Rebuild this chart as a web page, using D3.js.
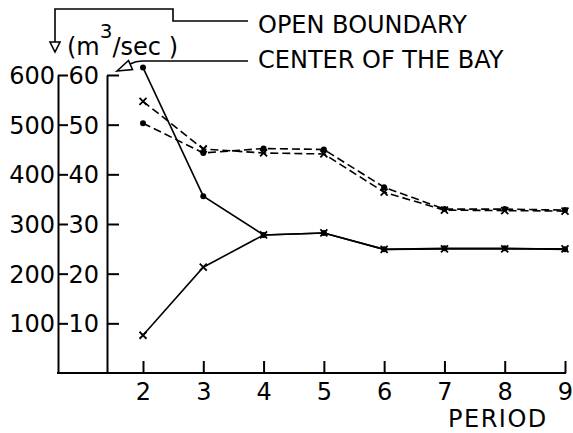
<!DOCTYPE html>
<html lang="en">
<head>
<meta charset="UTF-8">
<title>Flow by period</title>
<script src="https://d3js.org/d3.v7.min.js"></script>
<style>
  body { margin: 0; background: #fff; }
  svg { display: block; font-family: "DejaVu Sans", sans-serif; }
  .axis text { font-size: 24px; fill: #000; font-family: "DejaVu Sans", sans-serif; }
  .axis path, .axis line { stroke: #000; stroke-width: 2; }
  .lbl { font-size: 24px; fill: #000; }
  .conn { fill: none; stroke: #000; stroke-width: 1.6; }
  .tri { fill: #fff; stroke: #000; stroke-width: 1.6; }
</style>
</head>
<body>
<svg width="573" height="433"></svg>
<script>
const periods = [2, 3, 4, 5, 6, 7, 8, 9];
// solid lines, left scale (0-600)
const solidDot   = [615, 356, 278, 282, 249, 251, 251, 249];
const solidCross = [76, 213, 278, 282, 249, 250, 250, 250];
// dashed lines, inner scale (0-60)
const dashDot   = [50.3, 44.3, 45.2, 45.0, 37.4, 33.0, 33.0, 32.8];
const dashCross = [54.7, 45.1, 44.3, 44.1, 36.4, 32.8, 32.7, 32.6];
const outerTicks = [100, 200, 300, 400, 500, 600];
const innerTicks = [10, 20, 30, 40, 50, 60];
const legendLabels = ["OPEN BOUNDARY", "CENTER OF THE BAY"];

const outerX = 58, innerX = 107, plotTop = 75, plotBottom = 373;

const svg = d3.select("svg");

const yOuter = d3.scaleLinear().domain([0, 600]).range([plotBottom, plotTop]);
const yInner = d3.scaleLinear().domain([0, 60]).range([plotBottom, plotTop]);
const x = d3.scaleLinear().domain([2, 9]).range([143, 565]);

// left (outer) axis
svg.append("g")
    .attr("class", "axis")
    .attr("transform", `translate(${outerX},0)`)
    .call(d3.axisLeft(yOuter).tickValues(outerTicks).tickSizeInner(-10).tickSizeOuter(0).tickPadding(3))
    .call(g => g.selectAll("text").attr("dy", "0.36em"));

// inner axis
svg.append("g")
    .attr("class", "axis")
    .attr("transform", `translate(${innerX},0)`)
    .call(d3.axisLeft(yInner).tickValues(innerTicks).tickSizeInner(-12).tickSizeOuter(0).tickPadding(8))
    .call(g => g.selectAll("text").attr("dy", "0.36em"));

// x axis
svg.append("g")
    .attr("class", "axis")
    .attr("transform", `translate(0,${plotBottom})`)
    .call(d3.axisBottom(x).tickValues(periods).tickFormat(d3.format("d"))
        .tickSizeInner(-12).tickSizeOuter(0).tickPadding(10))
    .call(g => g.select(".domain").remove());

svg.append("line")
    .attr("x1", outerX - 1).attr("x2", x(9) + 1)
    .attr("y1", plotBottom).attr("y2", plotBottom)
    .attr("stroke", "#000").attr("stroke-width", 2);

svg.append("text").attr("class", "lbl")
    .attr("x", 448).attr("y", 427)
    .attr("letter-spacing", 1.5)
    .text("PERIOD");

// series
const series = [
    { values: solidDot,   y: yOuter, dash: null,  marker: "dot" },
    { values: solidCross, y: yOuter, dash: null,  marker: "cross" },
    { values: dashDot,    y: yInner, dash: "8,4", marker: "dot" },
    { values: dashCross,  y: yInner, dash: "8,4", marker: "cross" }
];

series.forEach(s => {
    const line = d3.line().x((d, i) => x(periods[i])).y(d => s.y(d));
    svg.append("path")
        .datum(s.values)
        .attr("d", line)
        .attr("fill", "none")
        .attr("stroke", "#000")
        .attr("stroke-width", 1.6)
        .attr("stroke-dasharray", s.dash);

    const pts = svg.append("g").selectAll("g")
        .data(s.values)
        .join("g")
        .attr("transform", (d, i) => `translate(${x(periods[i])},${s.y(d)})`);
    if (s.marker === "dot") {
        pts.append("circle").attr("r", 3).attr("fill", "#000");
    } else {
        pts.append("path")
            .attr("d", "M-3.5,-3.5L3.5,3.5M-3.5,3.5L3.5,-3.5")
            .attr("stroke", "#000").attr("stroke-width", 1.8);
    }
});

// unit label
const unit = svg.append("text").attr("class", "lbl").attr("x", 67).attr("y", 55);
unit.append("tspan").text("(m");
unit.append("tspan").attr("dy", -17).attr("font-size", 20).text("3");
unit.append("tspan").attr("dy", 17).text("/sec )");

// legend labels and leader lines
svg.selectAll(".legend")
    .data(legendLabels)
    .join("text")
    .attr("class", "lbl legend")
    .attr("x", 258)
    .attr("y", (d, i) => 33 + i * 35)
    .text(d => d);

svg.append("path").attr("class", "conn").attr("d", "M248,21H173V9H55V43");
svg.append("path").attr("class", "tri").attr("d", "M50,42L60,42L55,52Z");

svg.append("path").attr("class", "conn").attr("d", "M248,61H142Q136,61 130,64");
svg.append("path").attr("class", "tri").attr("d", "M117,71L128.5,60.5L132.5,69.5Z");
</script>
</body>
</html>
